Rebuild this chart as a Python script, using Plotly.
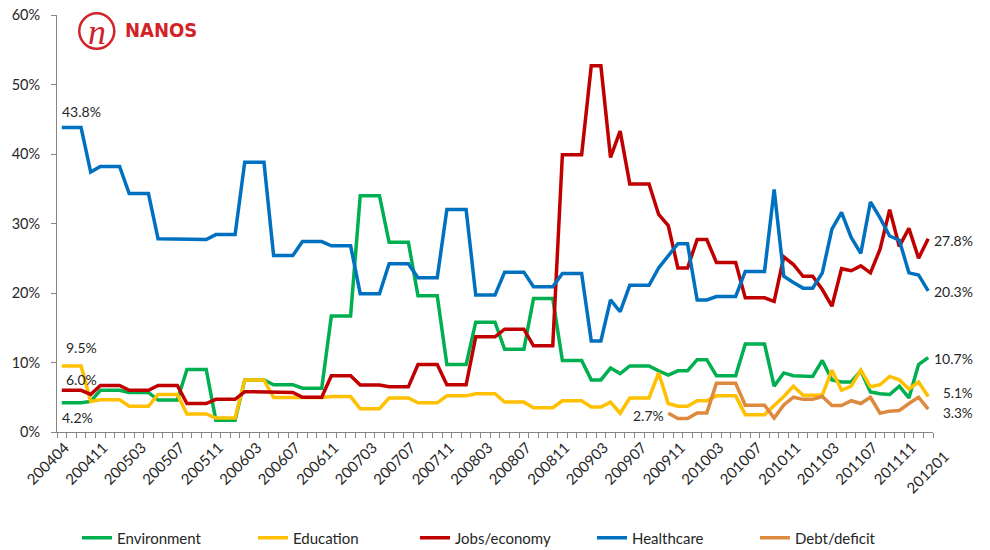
import plotly.graph_objects as go

# ---------------- data ----------------
tick_labels = ["200404", "200411", "200503", "200507", "200511", "200603", "200607", "200611",
               "200703", "200707", "200711", "200803", "200807", "200811", "200903", "200907",
               "200911", "201003", "201007", "201011", "201103", "201107", "201111", "201201"]

environment = [4.2, 4.2, 4.2, 4.4, 6.0, 6.0, 6.0, 5.7, 5.7, 5.7,
               4.6, 4.6, 4.6, 9.0, 9.0, 9.0, 1.7, 1.7, 1.7, 7.5,
               7.5, 7.5, 6.8, 6.8, 6.8, 6.3, 6.3, 6.3, 16.7, 16.7,
               16.7, 34.0, 34.0, 34.0, 27.3, 27.3, 27.3, 19.6, 19.6, 19.6,
               9.7, 9.7, 9.7, 15.8, 15.8, 15.8, 11.9, 11.9, 11.9, 19.2,
               19.2, 19.2, 10.3, 10.3, 10.3, 7.5, 7.5, 9.2, 8.4, 9.5,
               9.5, 9.5, 8.8, 8.2, 8.8, 8.8, 10.4, 10.4, 8.1, 8.1,
               8.1, 12.65, 12.65, 12.65, 6.6, 8.5, 8.1, 8.0, 8.0, 10.3,
               7.5, 7.2, 7.2, 8.8, 5.75, 5.5, 5.4, 6.6, 4.9, 9.7,
               10.7]

education = [9.5, 9.5, 9.5, 4.4, 4.65, 4.65, 4.65, 3.7, 3.7, 3.7,
             5.4, 5.4, 5.4, 2.6, 2.6, 2.6, 2.0, 2.0, 2.0, 7.5,
             7.5, 7.5, 4.95, 4.95, 4.95, 4.95, 4.95, 4.95, 5.1, 5.1,
             5.1, 3.35, 3.35, 3.35, 4.9, 4.9, 4.9, 4.2, 4.2, 4.2,
             5.2, 5.2, 5.2, 5.5, 5.5, 5.5, 4.3, 4.3, 4.3, 3.5,
             3.5, 3.5, 4.5, 4.5, 4.5, 3.6, 3.6, 4.3, 2.7, 4.9,
             4.9, 4.9, 8.5, 4.1, 3.7, 3.7, 4.5, 4.5, 5.2, 5.2,
             5.2, 2.5, 2.5, 2.5, 3.8, 5.1, 6.6, 5.3, 5.3, 5.3,
             8.9, 6.0, 6.6, 8.9, 6.5, 6.8, 8.0, 7.5, 6.2, 7.2,
             5.1]

jobs = [6.0, 6.0, 6.0, 5.4, 6.7, 6.7, 6.7, 6.0, 6.0, 6.0,
        6.7, 6.7, 6.7, 4.1, 4.1, 4.1, 4.7, 4.7, 4.7, 5.8,
        5.8, 5.8, 5.7, 5.7, 5.7, 5.0, 5.0, 5.0, 8.1, 8.1,
        8.1, 6.75, 6.75, 6.75, 6.5, 6.5, 6.5, 9.7, 9.7, 9.7,
        6.8, 6.8, 6.8, 13.7, 13.7, 13.7, 14.8, 14.8, 14.8, 12.4,
        12.4, 12.4, 39.9, 39.9, 39.9, 52.7, 52.7, 39.5, 43.3, 35.7,
        35.7, 35.7, 31.3, 29.7, 23.6, 23.6, 27.7, 27.7, 24.4, 24.4,
        24.4, 19.3, 19.3, 19.3, 18.8, 25.2, 24.1, 22.4, 22.4, 20.5,
        18.1, 23.5, 23.2, 23.9, 22.9, 26.3, 32.0, 26.7, 29.3, 25.0,
        27.8]

healthcare = [43.8, 43.8, 43.8, 37.4, 38.2, 38.2, 38.2, 34.3, 34.3, 34.3,
              27.8, 27.8, 27.8, 27.8, 27.7, 27.7, 28.4, 28.4, 28.4, 38.8,
              38.8, 38.8, 25.4, 25.4, 25.4, 27.4, 27.4, 27.4, 26.8, 26.8,
              26.8, 19.9, 19.9, 19.9, 24.2, 24.2, 24.2, 22.2, 22.2, 22.2,
              32.0, 32.0, 32.0, 19.7, 19.7, 19.7, 23.0, 23.0, 23.0, 20.9,
              20.9, 20.9, 22.8, 22.8, 22.8, 13.1, 13.1, 19.0, 17.3, 21.1,
              21.1, 21.1, 23.6, 25.4, 27.1, 27.1, 19.0, 19.0, 19.5, 19.5,
              19.5, 23.1, 23.1, 23.1, 34.9, 22.4, 21.5, 20.7, 20.7, 22.9,
              29.2, 31.6, 28.0, 25.7, 33.1, 30.8, 28.2, 27.6, 22.9, 22.6,
              20.3]

debt = [None] * 63 + [2.7, 1.95, 1.95, 2.75, 2.75, 7.0, 7.0, 7.0, 3.85, 3.85,
                      3.85, 2.0, 3.9, 5.0, 4.7, 4.7, 5.1, 3.8, 3.8, 4.5,
                      4.1, 5.0, 2.7, 3.0, 3.1, 4.1, 5.0, 3.3]

series = [
    ("Environment", environment, "#00B050", 131),
    ("Education", education, "#FFC000", 117),
    ("Jobs/economy", jobs, "#C00000", 132),
    ("Healthcare", healthcare, "#0070C0", 118),
    ("Debt/deficit", debt, "#DE8A3E", None),
]

x_idx = list(range(len(environment)))
tick_pos = [4 * i for i in range(len(tick_labels))]
n_cat = len(environment)
x_range = [-0.5, n_cat - 0.5]

FONT = "Lato, Carlito, 'Open Sans', sans-serif"
TXT = "#262626"
AXC = "#868686"

fig = go.Figure()
for name, vals, color, lw in series:
    kw = {}
    if lw:
        kw["legendwidth"] = lw
    fig.add_trace(go.Scatter(x=x_idx, y=vals, mode="lines", name=name,
                             line=dict(color=color, width=3.5),
                             connectgaps=False, hoverinfo="skip", **kw))

in_pos = [p for p in tick_pos if p <= n_cat - 1]
in_lab = tick_labels[:len(in_pos)]

annotations = []
# category label that the original drew past the end of the axis
for p, lab in zip(tick_pos[len(in_pos):], tick_labels[len(in_pos):]):
    xp = (p - x_range[0]) / (x_range[1] - x_range[0])
    annotations.append(dict(x=xp, y=0, xref="paper", yref="paper", text=lab, showarrow=False,
                            textangle=-45, xanchor="right", yanchor="top",
                            font=dict(family=FONT, size=15, color=TXT),
                            xshift=7, yshift=-12))

def first_valid(v):
    for i, a in enumerate(v):
        if a is not None:
            return i, a

lab_font = dict(family=FONT, size=14, color=TXT)
small_font = dict(family=FONT, size=13.5, color=TXT)
# start labels
i0, v0 = first_valid(healthcare)
annotations.append(dict(x=i0, y=v0, text=f"{v0:.1f}%", xanchor="left", yanchor="middle",
                        xshift=-2, yshift=16, showarrow=False, font=lab_font))
i0, v0 = first_valid(education)
annotations.append(dict(x=i0, y=v0, text=f"{v0:.1f}%", xanchor="left", yanchor="middle",
                        xshift=2, yshift=18, showarrow=False, font=lab_font))
i0, v0 = first_valid(jobs)
annotations.append(dict(x=i0, y=v0, text=f"{v0:.1f}%", xanchor="left", yanchor="middle",
                        xshift=2, yshift=11, showarrow=False, font=lab_font))
i0, v0 = first_valid(environment)
annotations.append(dict(x=i0, y=v0, text=f"{v0:.1f}%", xanchor="left", yanchor="middle",
                        xshift=-2, yshift=-15, showarrow=False, font=lab_font))
i0, v0 = first_valid(debt)
annotations.append(dict(x=i0, y=v0, text=f"{v0:.1f}%", xanchor="right", yanchor="middle",
                        xshift=-2, yshift=-2.5, showarrow=False, font=lab_font))
# end labels
for vals, ys, fnt in [(jobs, -1.5, lab_font), (healthcare, -0.5, lab_font),
                      (environment, -1.3, lab_font), (education, 3.5, small_font),
                      (debt, -4, small_font)]:
    annotations.append(dict(x=n_cat - 1, y=vals[-1], text=f"{vals[-1]:.1f}%", xanchor="right",
                            yanchor="middle", xshift=47, yshift=ys, showarrow=False, font=fnt))

# NANOS logo
annotations.append(dict(xref="paper", yref="paper", x=0.0454, y=0.960, text="<i>n</i>",
                        showarrow=False, xanchor="center", yanchor="middle",
                        font=dict(family="Liberation Serif, serif", size=36, color="#D2232A")))
annotations.append(dict(xref="paper", yref="paper", x=0.0748, y=0.963, text="<b>NANOS</b>",
                        showarrow=False, xanchor="left", yanchor="middle",
                        font=dict(family="'Liberation Sans Narrow', 'DejaVu Sans Condensed', 'Roboto Condensed', sans-serif",
                                  size=20, color="#D2232A")))

shapes = [dict(type="circle", xref="paper", yref="paper", x0=0.0254, x1=0.0654,
               y0=0.919, y1=1.004, line=dict(color="#D2232A", width=2.5))]

fig.update_layout(
    width=990, height=550,
    margin=dict(l=57, r=57, t=15, b=118, autoexpand=False),
    plot_bgcolor="white", paper_bgcolor="white",
    font=dict(family=FONT, size=14, color=TXT),
    xaxis=dict(range=x_range, tickmode="array", tickvals=in_pos, ticktext=in_lab,
               tickangle=-45, ticks="", showline=True, linecolor=AXC, linewidth=1,
               showgrid=False, zeroline=False, tickfont=dict(size=15, color=TXT),
               ticklabelshift=3,
               minor=dict(tickmode="linear", tick0=-0.5, dtick=1, ticks="outside", ticklen=5,
                          tickcolor=AXC, tickwidth=1, showgrid=False)),
    yaxis=dict(range=[0, 60], dtick=10, tick0=0, ticksuffix="%", ticks="outside", ticklen=5,
               tickcolor=AXC, showline=True, linecolor=AXC, linewidth=1, showgrid=False,
               zeroline=False, ticklabelstandoff=8, tickfont=dict(size=14.5, color=TXT)),
    showlegend=True,
    legend=dict(orientation="h", x=0.0228, xanchor="left", y=-0.254, yanchor="middle",
                font=dict(size=15, color=TXT), itemwidth=30, bgcolor="rgba(0,0,0,0)"),
    annotations=annotations,
    shapes=shapes,
)

fig.write_html("out.html")
